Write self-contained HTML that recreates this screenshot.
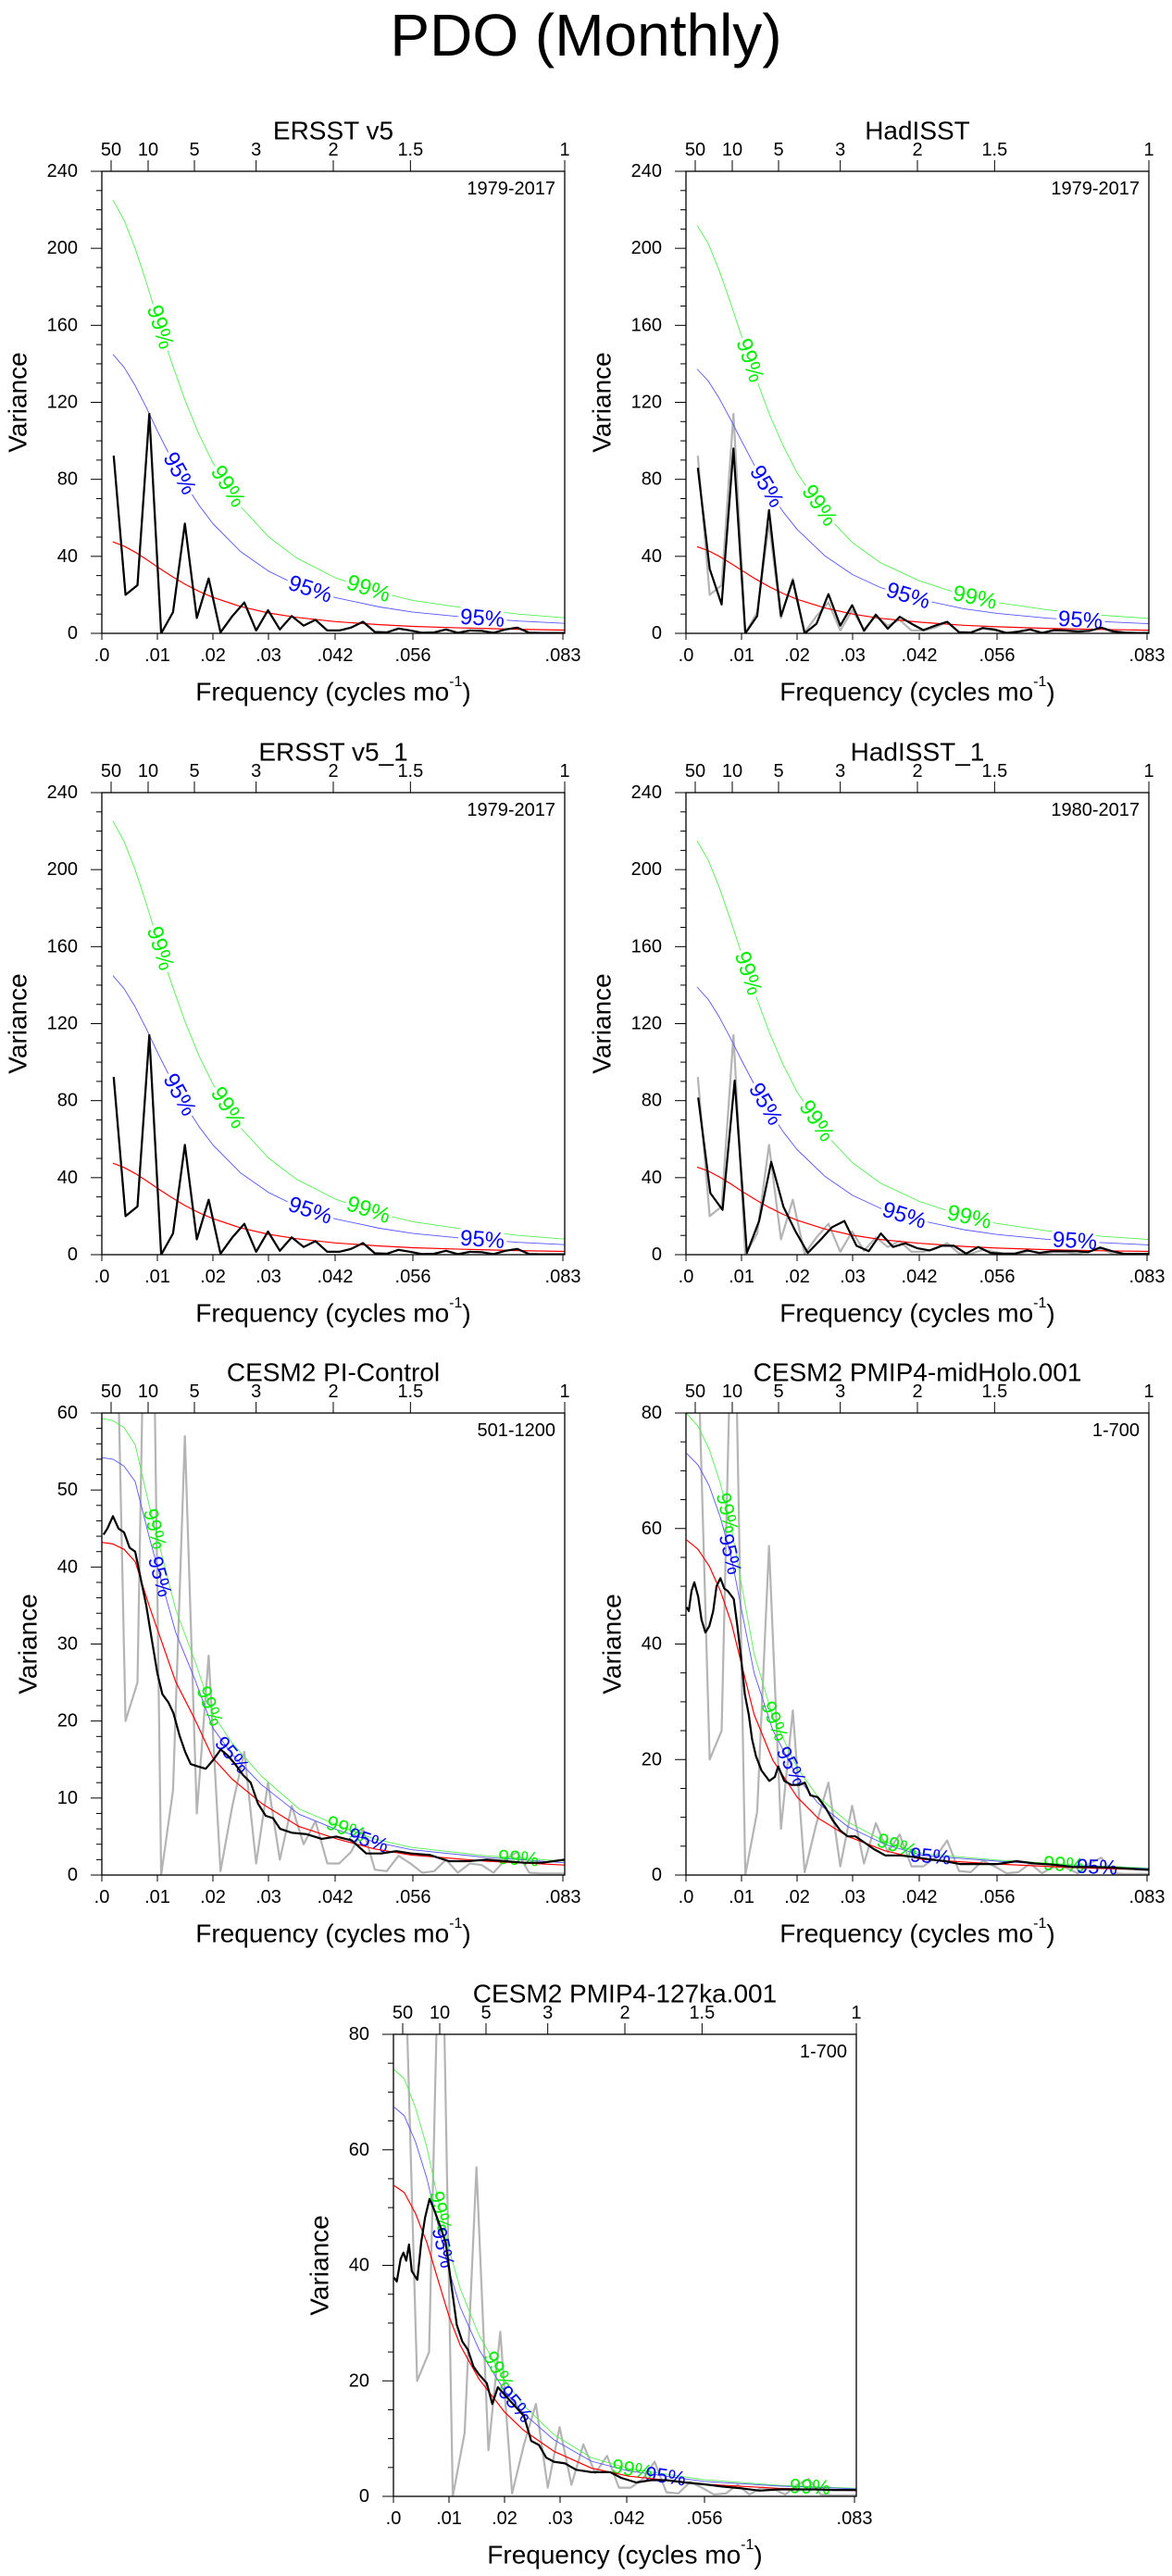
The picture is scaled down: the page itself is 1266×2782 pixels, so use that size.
<!DOCTYPE html>
<html><head><meta charset="utf-8"><title>PDO (Monthly)</title>
<style>
html,body{margin:0;padding:0;background:#fff;}
svg{display:block;font-family:"Liberation Sans",Arial,sans-serif;}
</style></head>
<body>
<svg id="fig" xmlns="http://www.w3.org/2000/svg" width="1266" height="2782" viewBox="0 0 1266 2782">
<text x="633" y="38" font-size="64" text-anchor="middle" dominant-baseline="central">PDO (Monthly)</text>
</svg>
<script>
// ---------- data ----------
const ersstVals = [92.3,20,25,114,0,11,57,8,28.5,0.5,9,16,1.5,12,2,9,4,7,1.5,1.5,3,6,0.7,0.5,2.5,1.5,0.3,0.5,2,0.3,1.5,1.3,0.3,2,3,0.3,0.2,0.2,0.2];
const hadVals = [86,33.5,15,96,0,9,64,9,27.5,0,5,20.4,4,14.6,1.3,9.7,2.4,8.6,5,1.7,4,6,0.6,0.4,2.8,2,0.2,0.9,2,0.2,1.7,1.5,1,1.3,3,1,0.4,0.2,0.2];
const had1Vals = [81.6,32,23.3,90.4,0.9,17.5,48.2,24.8,12,0.9,7.4,14.3,17.5,4.6,1.8,11,4,5.9,3.3,2.2,4.6,4.6,0.6,4,0.9,0.6,0.6,2.2,0.9,1.8,1.8,1.8,1.3,3.7,1.8,0.4,0.4,0.4];
const ersstMonths = [468];
const hadMonths = [468];
const had1Months = [456];

const piFreq = [.0003,.001,.002,.003,.004,.005,.006,.007,.008,.0089,.01,.0109,.012,.0129,.014,.015,.016,.0173,.0187,.02,.0214,.0227,.024,.0254,.0268,.0281,.0295,.0308,.0321,.0342,.0369,.0396,.0422,.045,.0476,.0503,.053,.0557,.0591,.0625,.0659,.0693,.0726,.076,.0793,.0833];
const piVals = [44.2,45,46.6,45,44.5,42.5,42,38.5,35,31,26.2,23.5,22.4,21,18.1,16,14.4,14.1,13.8,14.9,16.3,15.5,14.4,13,12,9.3,7.7,7.4,6,5.5,5.3,4.7,5,4.5,2.8,2.8,3.1,2.8,2.6,1.8,1.8,2,1.8,1.6,1.6,2];

const mhFreq = [.0001,.0005,.001,.0015,.0022,.0028,.0035,.0042,.0049,.0055,.0062,.0069,.0075,.0086,.0092,.0099,.0106,.0113,.0119,.0126,.0136,.015,.016,.0166,.0177,.019,.0204,.0214,.0224,.0237,.0251,.0264,.0278,.0291,.0305,.0322,.0338,.0359,.0386,.0413,.044,.0466,.0493,.0527,.0561,.0595,.0628,.0662,.0696,.0729,.0763,.0797,.0833];
const mhVals = [46.4,45.7,49.2,50.7,48.2,44.2,42,43.1,45.7,50,51.4,49.6,49.2,47.8,43.5,37.8,31.3,27.8,23.5,20.6,18.1,16.3,17,18.8,16.3,15.6,15.6,16,13.8,13.5,11.7,9.5,7.7,6.7,6.7,5.6,4.5,3.4,3.4,3.1,2.7,2.4,1.9,1.9,1.9,2.4,2,1.8,1.4,1.4,1.3,1.1,0.9];

const kaFreq = [.0001,.0006,.0013,.0018,.0023,.0028,.0033,.0043,.005,.0057,.0065,.0073,.0084,.0094,.01,.0107,.0114,.0124,.0134,.0144,.0154,.0168,.0178,.0188,.0201,.0222,.0235,.0248,.0262,.0275,.0289,.0309,.0329,.0356,.039,.041,.0437,.0464,.0491,.0525,.0558,.0592,.0626,.0659,.0693,.0727,.076,.0794,.0833];
const kaVals = [37.9,37.2,41.1,42.2,40.8,43.6,39,37.5,44,48.3,51.5,49.7,46.8,44,39.7,34.7,29.7,26.8,25.4,22.5,21.1,19.6,16,18.9,17.5,15.3,13.9,9.6,8.9,6.7,6,5.7,4.6,4.2,4.2,3.2,2.4,2.8,2.8,2.4,2.1,1.7,1.4,1.0,1.2,1.2,1.2,1.1,1.1];

// red-noise and confidence curves
const obsCurveFreq = [.002,.004,.006,.008,.01,.0125,.015,.0175,.02,.025,.03,.035,.042,.05,.056,.065,.075,.0833];
const ersstRed = [47.5,45.3,42.2,38.5,34.5,29.8,25.5,21.8,18.7,13.9,10.6,8.3,6.1,4.5,3.6,2.8,2.1,1.7];
const ersst95 = [144.9,138.2,128.7,117.4,105.2,90.9,77.8,66.5,57.0,42.4,32.3,25.3,18.6,13.7,11.0,8.5,6.4,5.2];
const ersst99 = [225.2,214.7,200.0,182.5,163.5,141.3,120.9,103.3,88.6,65.9,50.2,39.3,28.9,21.3,17.1,13.3,10.0,8.1];
const hadRed = [45,43,40,36.5,32.8,28.3,24.2,20.7,17.7,13.2,10,7.8,5.8,4.2,3.4,2.6,2,1.65];
const had95 = [137.3,131.1,122,111.3,100,86.3,73.8,63.1,54,40.3,30.5,23.8,17.7,12.8,10.4,7.9,6.1,5.0];
const had99 = [212,202.5,188.4,171.9,154.5,133.3,114,97.5,83.4,62.2,47.1,36.7,27.3,19.8,16,12.2,9.4,7.8];
const had1Red = [45.5,43.5,40.4,36.9,33.1,28.6,24.5,20.9,17.9,13.3,10.1,7.9,5.9,4.3,3.4,2.6,2,1.67];
const had1_95 = [139,132.6,123.4,112.5,101,87.3,74.7,63.8,54.6,40.7,30.8,24.1,17.9,13.0,10.5,8.0,6.2,5.1];
const had1_99 = [215,205,190.8,174,156.5,135,115.5,98.7,84.5,63,47.7,37.2,27.7,20.1,16.2,12.4,9.5,7.9];

const piCurveFreq = [0,.002,.004,.006,.0086,.0133,.0167,.02,.0234,.0288,.0355,.0423,.049,.0557,.0692,.0833];
const piRed = [43.2,43.0,42.3,40.7,34.8,25.1,20.3,15.2,12.5,9.3,6.3,4.7,3.4,2.6,1.8,1.3];
const pi95 = [54.2,54.0,53.1,51.1,43.7,31.5,25.5,19.1,15.7,11.7,7.9,5.9,4.3,3.3,2.3,1.6];
const pi99 = [59.3,59.0,58.1,55.9,47.8,34.5,27.9,20.9,17.2,12.8,8.6,6.5,4.7,3.6,2.5,1.8];

const mhCurveFreq = [.00013,.00216,.00418,.0062,.00822,.01024,.01227,.01564,.02002,.02372,.02911,.03585,.04259,.05607,.06955,.0833];
const mhRed = [58,56.4,53.5,49.2,43.5,35.6,27.8,19.9,13.5,9.9,6.7,4.2,2.7,1.9,1.3,0.9];
const mh95 = [73,71,67.4,61.9,54.8,44.8,35,25.1,17,12.5,8.4,5.3,3.4,2.4,1.6,1.1];
const mh99 = [79.9,77.7,73.7,67.8,59.9,49.1,38.3,27.4,18.6,13.6,9.2,5.8,3.7,2.6,1.8,1.2];

const kaCurveFreq = [.00013,.00195,.00397,.006,.00801,.01003,.01205,.01542,.02,.0235,.02889,.03562,.04236,.05583,.06929,.0833];
const kaRed = [53.8,52.6,49,44,37.5,31.1,26.1,20.3,14.6,11.4,7.8,4.9,3.5,2.1,1.4,1.0];
const ka95 = [67.4,65.9,61.4,55.1,47,39,32.7,25.4,18.3,14.3,9.8,6.1,4.4,2.6,1.8,1.3];
const ka99 = [73.9,72.3,67.3,60.5,51.5,42.7,35.9,27.9,20.1,15.7,10.7,6.7,4.8,2.9,1.9,1.4];

// axis tick labels
const xTickVals = [0,.01,.02,.03,.042,.056,.083];
const xTickLabels = [".0",".01",".02",".03",".042",".056",".083"];
const periodTickYears = [50,10,5,3,2,1.5,1];
const periodTickLabels = ["50","10","5","3","2","1.5","1"];
const XMAX = 0.08333;

// ---------- drawing ----------
const NS = "http://www.w3.org/2000/svg";
const svg = document.getElementById('fig');
function mk(tag, attrs, parent){
  const e = document.createElementNS(NS, tag);
  for (const k in attrs) e.setAttribute(k, attrs[k]);
  (parent||svg).appendChild(e);
  return e;
}
function interp(fs, vs, f){
  if (f <= fs[0]) return vs[0];
  for (let i=1;i<fs.length;i++){ if (f <= fs[i]){ const t=(f-fs[i-1])/(fs[i]-fs[i-1]); return vs[i-1]+t*(vs[i]-vs[i-1]); } }
  return vs[vs.length-1];
}
const obsFreq = (n, months) => Array.from({length:n}, (_,i)=>(i+1)/months);

const W = 500, H = 499;
let clipId = 0;
function drawPanel(cfg){
  const gx = cfg.x, gy = cfg.y;
  const xs = f => gx + f / XMAX * W;
  const ys = v => gy + H - v / cfg.ymax * H;
  const g = mk('g', {});
  
  
  const cid = 'clip' + (clipId++);
  const cp = mk('clipPath', {id: cid}, g);
  mk('rect', {x: gx, y: gy, width: W, height: H}, cp);

  const t = mk('text', {x: gx + W/2, y: gy - 44, 'font-size': 28, 'text-anchor': 'middle', 'dominant-baseline': 'central'}, g);
  
  
  t.textContent = cfg.title;

  const pl = mk('text', {x: gx + W - 10, y: gy + 19, 'font-size': 20, 'text-anchor': 'end', 'dominant-baseline': 'central'}, g);
  
  
  pl.textContent = cfg.period;

  function line(fs, vs, color, width, nm){
    const pts = fs.map((f,i)=> xs(f).toFixed(1)+','+ys(vs[i]).toFixed(1)).join(' ');
    const p = mk('polyline', {points: pts, fill: 'none', stroke: color, 'stroke-width': width, 'stroke-linejoin': 'round', 'clip-path': 'url(#'+cid+')'}, g);
    
    
  }
  line(cfg.gf, cfg.gv, '#b4b4b4', 2.2, 'reference-ersst-spectrum');
  line(cfg.cf, cfg.c99, '#55ee55', 0.9, 'confidence-99-curve');
  line(cfg.cf, cfg.c95, '#5555ff', 0.9, 'confidence-95-curve');

  // percentage labels along curves (halo gaps the confidence lines in obs panels)
  cfg.labels.forEach(lb=>{
    const arr = lb[1]==='99' ? cfg.c99 : cfg.c95;
    const f = lb[0];
    const x0 = xs(f), y0 = ys(interp(cfg.cf, arr, f));
    const xa = xs(f-0.001), ya = ys(interp(cfg.cf, arr, f-0.001));
    const xb = xs(f+0.001), yb = ys(interp(cfg.cf, arr, f+0.001));
    const ang = Math.atan2(yb-ya, xb-xa) * 180 / Math.PI;
    const attrs = {x: x0, y: y0, 'font-size': cfg.lfs, 'text-anchor': 'middle', 'dominant-baseline': 'central',
      fill: lb[1]==='99' ? '#00ee00' : '#0000ff', transform: 'rotate('+ang.toFixed(1)+' '+x0.toFixed(1)+' '+y0.toFixed(1)+')'};
    if (cfg.halo){ attrs.stroke = '#fff'; attrs['stroke-width'] = 7; attrs['paint-order'] = 'stroke'; }
    const tx = mk('text', attrs, g);
    
    
    tx.textContent = lb[1] + '%';
  });

  line(cfg.cf, cfg.red, '#ff0000', 1.2, 'red-noise-curve');
  line(cfg.bf, cfg.bv, '#000000', 2.2, 'spectrum-line');

  const fr = mk('rect', {x: gx, y: gy, width: W, height: H, fill: 'none', stroke: '#000', 'stroke-width': 1.3}, g);
  
  

  for (let v = 0; v <= cfg.ymax + 1e-9; v += cfg.yminor){
    const major = Math.abs(v / cfg.ymajor - Math.round(v / cfg.ymajor)) < 1e-6;
    const tk = mk('line', {x1: gx - (major ? 12 : 6), x2: gx, y1: ys(v), y2: ys(v), stroke: '#000', 'stroke-width': 1}, g);
    
    
    if (major){
      const lt = mk('text', {x: gx - 26, y: ys(v), 'font-size': 20, 'text-anchor': 'end', 'dominant-baseline': 'central'}, g);
      
      
      lt.textContent = String(Math.round(v));
    }
  }
  xTickVals.forEach((f,i)=>{
    const tk = mk('line', {x1: xs(f), x2: xs(f), y1: gy + H, y2: gy + H + 7, stroke: '#000', 'stroke-width': 1}, g);
    
    
    const lt = mk('text', {x: xs(f), y: gy + H + 24, 'font-size': 20, 'text-anchor': 'middle', 'dominant-baseline': 'central'}, g);
    
    
    lt.textContent = xTickLabels[i];
  });
  periodTickYears.forEach((p,i)=>{
    const f = 1 / (12 * p);
    const tk = mk('line', {x1: xs(f), x2: xs(f), y1: gy - 12, y2: gy, stroke: '#000', 'stroke-width': 1}, g);
    
    
    const lt = mk('text', {x: xs(f), y: gy - 23, 'font-size': 20, 'text-anchor': 'middle', 'dominant-baseline': 'central'}, g);
    
    
    lt.textContent = periodTickLabels[i];
  });
  const yt = mk('text', {x: gx + cfg.ytx, y: gy + H/2, 'font-size': 28, 'text-anchor': 'middle', 'dominant-baseline': 'central', transform: 'rotate(-90 '+(gx+cfg.ytx)+' '+(gy+H/2)+')'}, g);
  
  
  yt.textContent = 'Variance';
  const xt = mk('text', {x: gx + W/2, y: gy + H + 63, 'font-size': 28, 'text-anchor': 'middle', 'dominant-baseline': 'central'}, g);
  
  
  xt.appendChild(document.createTextNode('Frequency (cycles mo'));
  const sup = mk('tspan', {'font-size': 16, dy: -11}, xt);
  sup.textContent = '-1';
  const cl = mk('tspan', {'font-size': 28, dy: 11}, xt);
  cl.textContent = ')';
}

const ersstF = obsFreq(ersstVals.length, ersstMonths[0]);
const hadF = obsFreq(hadVals.length, hadMonths[0]);
const had1F = obsFreq(had1Vals.length, had1Months[0]);
const obsLabels = [[.0105,'99'],[.014,'95'],[.0227,'99'],[.0375,'95'],[.048,'99'],[.0685,'95']];

drawPanel({name:'panel-ersst-v5', x:110, y:185, title:'ERSST v5', period:'1979-2017', ymax:240, ymajor:40, yminor:10, ytx:-91, lfs:24, halo:true,
  gf:ersstF, gv:ersstVals, bf:ersstF, bv:ersstVals, cf:obsCurveFreq, red:ersstRed, c95:ersst95, c99:ersst99, labels:obsLabels});
drawPanel({name:'panel-hadisst', x:741, y:185, title:'HadISST', period:'1979-2017', ymax:240, ymajor:40, yminor:10, ytx:-91, lfs:24, halo:true,
  gf:ersstF, gv:ersstVals, bf:hadF, bv:hadVals, cf:obsCurveFreq, red:hadRed, c95:had95, c99:had99, labels:[[.0115,'99'],[.0145,'95'],[.024,'99'],[.04,'95'],[.052,'99'],[.071,'95']]});
drawPanel({name:'panel-ersst-v5-1', x:110, y:856, title:'ERSST v5_1', period:'1979-2017', ymax:240, ymajor:40, yminor:10, ytx:-91, lfs:24, halo:true,
  gf:ersstF, gv:ersstVals, bf:ersstF, bv:ersstVals, cf:obsCurveFreq, red:ersstRed, c95:ersst95, c99:ersst99, labels:obsLabels});
drawPanel({name:'panel-hadisst-1', x:741, y:856, title:'HadISST_1', period:'1980-2017', ymax:240, ymajor:40, yminor:10, ytx:-91, lfs:24, halo:true,
  gf:ersstF, gv:ersstVals, bf:had1F, bv:had1Vals, cf:obsCurveFreq, red:had1Red, c95:had1_95, c99:had1_99, labels:[[.0112,'99'],[.0143,'95'],[.0235,'99'],[.0393,'95'],[.051,'99'],[.07,'95']]});
drawPanel({name:'panel-cesm2-pi-control', x:110, y:1526, title:'CESM2 PI-Control', period:'501-1200', ymax:60, ymajor:10, yminor:2, ytx:-80, lfs:22, halo:false,
  gf:ersstF, gv:ersstVals, bf:piFreq, bv:piVals, cf:piCurveFreq, red:piRed, c95:pi95, c99:pi99, labels:[[.0096,'99'],[.0105,'95'],[.0195,'99'],[.0235,'95'],[.044,'99'],[.048,'95'],[.075,'99']]});
drawPanel({name:'panel-cesm2-midholo', x:741, y:1526, title:'CESM2 PMIP4-midHolo.001', period:'1-700', ymax:80, ymajor:20, yminor:5, ytx:-80, lfs:22, halo:false,
  gf:ersstF, gv:ersstVals, bf:mhFreq, bv:mhVals, cf:mhCurveFreq, red:mhRed, c95:mh95, c99:mh99, labels:[[.0075,'99'],[.008,'95'],[.016,'99'],[.019,'95'],[.038,'99'],[.044,'95'],[.068,'99'],[.074,'95']]});
drawPanel({name:'panel-cesm2-127ka', x:425, y:2197, title:'CESM2 PMIP4-127ka.001', period:'1-700', ymax:80, ymajor:20, yminor:5, ytx:-80, lfs:22, halo:false,
  gf:ersstF, gv:ersstVals, bf:kaFreq, bv:kaVals, cf:kaCurveFreq, red:kaRed, c95:ka95, c99:ka99, labels:[[.0085,'99'],[.009,'95'],[.019,'99'],[.022,'95'],[.043,'99'],[.049,'95'],[.075,'99']]});
</script>
</body></html>
